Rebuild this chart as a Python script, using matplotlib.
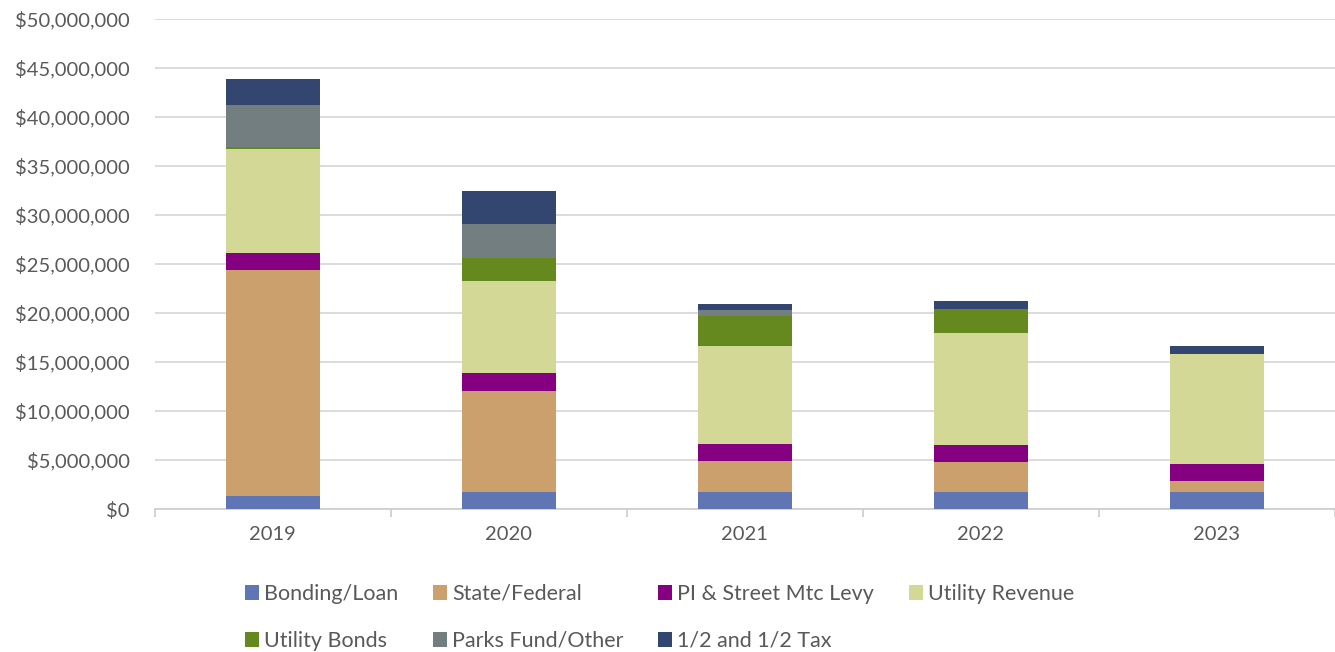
import numpy as np
import matplotlib.pyplot as plt
from matplotlib.ticker import FuncFormatter, FixedLocator

# Data (in dollars)
years = ['2019', '2020', '2021', '2022', '2023']
series_names = ['Bonding/Loan', 'State/Federal', 'PI & Street Mtc Levy', 'Utility Revenue',
                'Utility Bonds', 'Parks Fund/Other', '1/2 and 1/2 Tax']
bonding_loan = [1.36e6, 1.77e6, 1.77e6, 1.77e6, 1.77e6]
state_federal = [23.0e6, 10.3e6, 3.13e6, 2.99e6, 1.09e6]
pi_street_levy = [1.76e6, 1.81e6, 1.76e6, 1.74e6, 1.77e6]
utility_revenue = [10.65e6, 9.35e6, 9.94e6, 11.49e6, 11.15e6]
utility_bonds = [0.15e6, 2.38e6, 3.12e6, 2.38e6, 0.0]
parks_fund = [4.3e6, 3.47e6, 0.58e6, 0.0, 0.0]
half_tax = [2.7e6, 3.37e6, 0.65e6, 0.85e6, 0.89e6]

colors = ['#6076B4', '#CCA06C', '#850080', '#D3D896', '#65891F', '#737E80', '#334670']
text_color = '#595959'
grid_color = '#D9D9D9'
fs = 14.5

plt.rcParams['font.family'] = ['Lato', 'DejaVu Sans']

fig = plt.figure(figsize=(13.35, 6.52), dpi=100)
ax = fig.add_axes([0.116, 0.2193, 0.884, 0.7515])

x = np.arange(len(years))
bottom = np.zeros(len(years))
handles = []
for name, vals, col in zip(series_names,
                           [bonding_loan, state_federal, pi_street_levy, utility_revenue,
                            utility_bonds, parks_fund, half_tax], colors):
    vals = np.array(vals)
    h = ax.bar(x, vals, 0.40, bottom=bottom, color=col, label=name, zorder=3)
    handles.append(h)
    bottom += vals

ax.set_xlim(-0.5, len(years) - 0.5)
ax.set_ylim(0, 50e6)
ax.set_yticks(np.arange(0, 50e6 + 1, 5e6))
ax.yaxis.set_major_formatter(FuncFormatter(lambda v, p: '${:,.0f}'.format(v)))
ax.grid(axis='y', color=grid_color, linewidth=1.3, zorder=0)
ax.set_axisbelow(True)

for s in ['top', 'right', 'left']:
    ax.spines[s].set_visible(False)
ax.spines['bottom'].set_color('#CFCFCF')
ax.spines['bottom'].set_linewidth(1.3)

ax.set_xticks(x)
ax.set_xticklabels(years)
ax.xaxis.set_minor_locator(FixedLocator(np.arange(-0.5, len(years), 1.0)))
ax.tick_params(axis='x', which='major', length=0, pad=12, labelsize=fs, labelcolor=text_color)
ax.tick_params(axis='x', which='minor', length=6, width=1.3, color='#CFCFCF')
ax.tick_params(axis='y', length=0, pad=18, labelsize=fs, labelcolor=text_color)

order = [0, 4, 1, 5, 2, 6, 3]
leg = fig.legend([handles[i] for i in order], [series_names[i] for i in order],
                 loc='center', bbox_to_anchor=(0.494, 0.053), ncol=4, frameon=False,
                 fontsize=15.5, handlelength=0.65, handleheight=0.65, handletextpad=0.25,
                 columnspacing=1.6, labelspacing=1.25)
for t in leg.get_texts():
    t.set_color(text_color)

fig.savefig('out.png', dpi=100)
